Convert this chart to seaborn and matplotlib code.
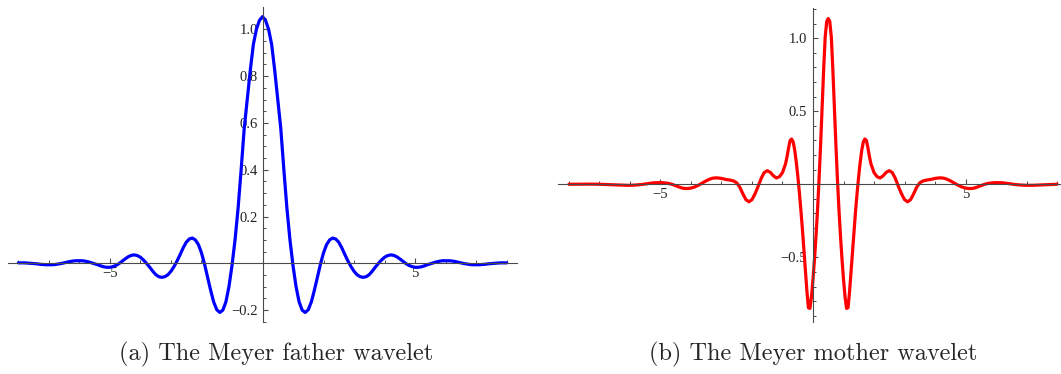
import numpy as np
import matplotlib
matplotlib.use("Agg")
import matplotlib.pyplot as plt
import seaborn as sns
from matplotlib.ticker import FixedLocator

# ---------------------------------------------------------------------------
# Data: half profiles of the two (symmetric) Meyer wavelets.
# father: phi(x) is even about x = 0      -> phi(+-t) = father_profile[t]
# mother: psi(x) is even about x = 1/2    -> psi(1/2 +- t) = mother_profile[t]
# ---------------------------------------------------------------------------
father_offsets = [round(0.1 * k, 1) for k in range(81)]  # 0.0 .. 8.0
father_profile = [
    1.054, 1.038, 1.000, 0.935, 0.825, 0.700, 0.575, 0.400, 0.235, 0.100,
    -0.010, -0.100, -0.165, -0.200, -0.210, -0.198, -0.165, -0.115, -0.058, -0.003,
    0.045, 0.080, 0.100, 0.108, 0.104, 0.090, 0.066, 0.037, 0.010, -0.014,
    -0.034, -0.049, -0.057, -0.060, -0.057, -0.048, -0.033, -0.016, 0.000, 0.014,
    0.026, 0.033, 0.036, 0.034, 0.028, 0.019, 0.009, -0.001, -0.009, -0.014,
    -0.017, -0.017, -0.015, -0.011, -0.006, -0.002, 0.002, 0.006, 0.009, 0.011,
    0.011, 0.011, 0.010, 0.008, 0.005, 0.002, -0.001, -0.003, -0.005, -0.006,
    -0.006, -0.006, -0.005, -0.004, -0.002, -0.001, 0.000, 0.001, 0.002, 0.002,
    0.002,
]
father_center = 0.0

mother_offsets = [
    0.00, 0.05, 0.10, 0.15, 0.20, 0.25, 0.30, 0.35, 0.40, 0.45,
    0.50, 0.55, 0.60, 0.65, 0.70, 0.75, 0.80, 0.85, 0.90, 0.95,
    1.00, 1.05, 1.10, 1.15, 1.20, 1.25, 1.30, 1.35, 1.40, 1.50,
    1.60, 1.70, 1.80, 1.90, 2.00, 2.10, 2.20, 2.30, 2.40, 2.50,
    2.60, 2.70, 2.80, 2.90, 3.00, 3.10, 3.20, 3.30, 3.40, 3.50,
    3.60, 3.70, 3.80, 3.90, 4.00, 4.10, 4.20, 4.30, 4.40, 4.50,
    4.60, 4.70, 4.80, 4.90, 5.00, 5.10, 5.20, 5.30, 5.40, 5.50,
    5.60, 5.70, 5.80, 5.90, 6.00, 6.10, 6.20, 6.30, 6.40, 6.50,
    6.60, 6.70, 6.80, 6.90, 7.00, 7.25, 7.50, 7.75, 8.00, 8.50,
]
mother_profile = [
    1.135, 1.115, 1.010, 0.790, 0.530, 0.275, 0.040, -0.170, -0.350, -0.510,
    -0.650, -0.770, -0.850, -0.845, -0.730, -0.590, -0.440, -0.300, -0.170, -0.050,
    0.060, 0.155, 0.235, 0.290, 0.310, 0.300, 0.250, 0.190, 0.140, 0.080,
    0.052, 0.043, 0.058, 0.082, 0.093, 0.080, 0.040, -0.015, -0.065, -0.105,
    -0.120, -0.105, -0.065, -0.020, 0.010, 0.022, 0.028, 0.031, 0.035, 0.040,
    0.043, 0.044, 0.041, 0.034, 0.024, 0.012, 0.000, -0.011, -0.020, -0.026,
    -0.029, -0.029, -0.025, -0.018, -0.010, -0.002, 0.004, 0.008, 0.010, 0.011,
    0.011, 0.010, 0.008, 0.005, 0.002, -0.001, -0.003, -0.005, -0.006, -0.007,
    -0.007, -0.007, -0.006, -0.005, -0.004, -0.002, 0.000, 0.001, 0.001, 0.000,
]
mother_center = 0.5

x_domain = (-8.0, 8.0)

father_xticks = [-5, 5]
father_xticklabels = ["\u22125", "5"]
father_yticks = [-0.2, 0.2, 0.4, 0.6, 0.8, 1.0]
father_yticklabels = ["\u22120.2", "0.2", "0.4", "0.6", "0.8", "1.0"]

mother_xticks = [-5, 5]
mother_xticklabels = ["\u22125", "5"]
mother_yticks = [-0.5, 0.5, 1.0]
mother_yticklabels = ["\u22120.5", "0.5", "1.0"]

captions = ["(a) The Meyer father wavelet", "(b) The Meyer mother wavelet"]


def unfold(center, offsets, profile, lo, hi):
    """Rebuild the full symmetric curve from its half profile."""
    t = np.asarray(offsets, dtype=float)
    v = np.asarray(profile, dtype=float)
    x = np.concatenate([center - t[:0:-1], center + t])
    y = np.concatenate([v[:0:-1], v])
    keep = (x >= lo - 1e-9) & (x <= hi + 1e-9)
    return x[keep], y[keep]


# ---------------------------------------------------------------------------
# Figure
# ---------------------------------------------------------------------------
sns.set_style("white")
plt.rcParams["font.family"] = ["Liberation Serif", "DejaVu Serif"]

W, H = 1061, 374
fig = plt.figure(figsize=(W / 100, H / 100), dpi=100)
fig.patch.set_facecolor("white")

AXIS_COLOR = "#4a4a4a"


def axes_px(left, top, right, bottom):
    return fig.add_axes([left / W, 1 - bottom / H, (right - left) / W, (bottom - top) / H])


def style_axes(ax, xlim, ylim, xticks, xlabels, xminor, yticks, ylabels, yminor, ypad):
    ax.set_xlim(*xlim)
    ax.set_ylim(*ylim)
    ax.set_facecolor("none")
    for side in ("top", "right"):
        ax.spines[side].set_visible(False)
    for side in ("left", "bottom"):
        ax.spines[side].set_position(("data", 0))
        ax.spines[side].set_color(AXIS_COLOR)
        ax.spines[side].set_linewidth(0.8)
    ax.set_xticks(xticks, labels=xlabels)
    ax.set_yticks(yticks, labels=ylabels)
    ax.xaxis.set_minor_locator(FixedLocator(xminor))
    ax.yaxis.set_minor_locator(FixedLocator(yminor))
    ax.tick_params(which="both", bottom=True, left=True, top=False, right=False)
    ax.tick_params(which="major", direction="in", length=3.8, width=0.8,
                   color=AXIS_COLOR, labelsize=10.5, labelcolor="#222222")
    ax.tick_params(which="minor", direction="in", length=2.2, width=0.7,
                   color=AXIS_COLOR)
    ax.tick_params(axis="x", which="major", pad=2.5)
    ax.tick_params(axis="y", which="major", pad=ypad)
    ax.set_xlabel("")
    ax.set_ylabel("")
    ax.grid(False)


# (a) father wavelet
ax_a = axes_px(8.3, 7.3, 516.7, 322.3)
fx, fy = unfold(father_center, father_offsets, father_profile, *x_domain)
sns.lineplot(x=fx, y=fy, ax=ax_a, color="#0000ff", linewidth=2.3, estimator=None,
             sort=False)
ax_a.lines[-1].set_solid_joinstyle("round")
ax_a.lines[-1].set_solid_capstyle("round")
style_axes(
    ax_a, (-8.33, 8.33), (-0.252, 1.094),
    father_xticks, father_xticklabels,
    [k for k in range(-8, 9) if k not in (-5, 0, 5)],
    father_yticks, father_yticklabels,
    [round(0.05 * k, 2) for k in range(-5, 22) if k % 4 != 0],
    ypad=3.5,
)

# (b) mother wavelet
ax_b = axes_px(558.3, 8.3, 1067.7, 321.7)
mx, my = unfold(mother_center, mother_offsets, mother_profile, *x_domain)
sns.lineplot(x=mx, y=my, ax=ax_b, color="#ff0000", linewidth=2.3, estimator=None,
             sort=False)
ax_b.lines[-1].set_solid_joinstyle("round")
ax_b.lines[-1].set_solid_capstyle("round")
style_axes(
    ax_b, (-8.35, 8.35), (-0.941, 1.205),
    mother_xticks, mother_xticklabels,
    [k for k in range(-8, 9) if k not in (-5, 0, 5)],
    mother_yticks, mother_yticklabels,
    [round(0.1 * k, 1) for k in range(-9, 13) if k % 5 != 0],
    ypad=4.5,
)

# sub-figure captions
fig.text(276 / W, 1 - 354 / H, captions[0], ha="center", va="center",
         family="cmr10", fontsize=17.5)
fig.text(813 / W, 1 - 354 / H, captions[1], ha="center", va="center",
         family="cmr10", fontsize=17.5)

fig.savefig("out.png", dpi=100, facecolor="white")
